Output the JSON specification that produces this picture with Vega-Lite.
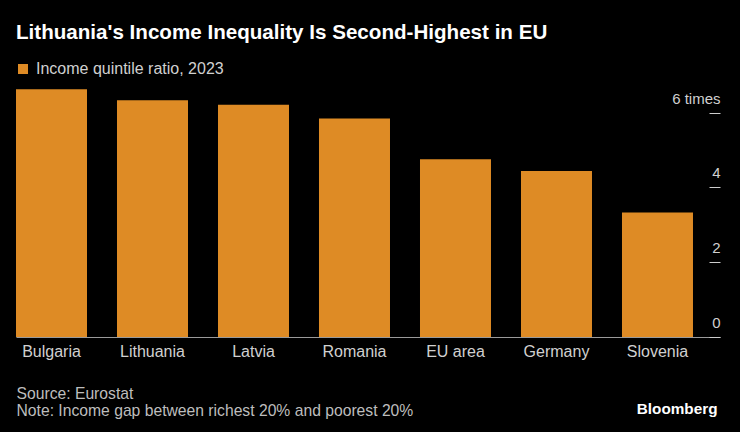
{
  "$schema": "https://vega.github.io/schema/vega-lite/v6.json",
  "width": 704,
  "height": 248,
  "autosize": {"type": "none"},
  "padding": {"left": 16, "top": 89, "right": 20, "bottom": 95},
  "background": "#000000",
  "config": {
    "view": {"stroke": null},
    "font": "Liberation Sans"
  },
  "title": {
    "text": "Lithuania's Income Inequality Is Second-Highest in EU",
    "anchor": "start",
    "frame": "group",
    "fontSize": 20.6,
    "fontWeight": "bold",
    "color": "#ffffff",
    "baseline": "alphabetic",
    "offset": 1.5
  },
  "data": {
    "values": [
      {"country": "Bulgaria", "ratio": 6.62, "series": "Income quintile ratio, 2023"},
      {"country": "Lithuania", "ratio": 6.33, "series": "Income quintile ratio, 2023"},
      {"country": "Latvia", "ratio": 6.21, "series": "Income quintile ratio, 2023"},
      {"country": "Romania", "ratio": 5.84, "series": "Income quintile ratio, 2023"},
      {"country": "EU area", "ratio": 4.75, "series": "Income quintile ratio, 2023"},
      {"country": "Germany", "ratio": 4.44, "series": "Income quintile ratio, 2023"},
      {"country": "Slovenia", "ratio": 3.33, "series": "Income quintile ratio, 2023"}
    ]
  },
  "mark": {"type": "bar"},
  "encoding": {
    "x": {
      "field": "country",
      "type": "nominal",
      "sort": null,
      "scale": {"paddingInner": 0.297, "paddingOuter": 0.1337, "align": 0},
      "axis": {
        "labelAngle": 0,
        "labelFontSize": 16,
        "labelColor": "#d0d0d0",
        "labelPadding": 6,
        "ticks": false,
        "domainColor": "#9a9a9a",
        "domainWidth": 1,
        "title": ["Source: Eurostat", "Note: Income gap between richest 20% and poorest 20%"],
        "titleFontSize": 15.7,
        "titleFontWeight": "normal",
        "titleColor": "#bdbdbd",
        "titleAnchor": "start",
        "titleAlign": "left",
        "titleBaseline": "alphabetic",
        "titleLineHeight": 17.3,
        "titleX": 0,
        "titleY": 61
      }
    },
    "y": {
      "field": "ratio",
      "type": "quantitative",
      "scale": {"domain": [0, 6.63], "nice": false},
      "axis": {
        "orient": "right",
        "offset": -11,
        "values": [0, 2, 4, 6],
        "grid": false,
        "domain": false,
        "tickSize": 11,
        "tickColor": "#cccccc",
        "labelAlign": "right",
        "labelBaseline": "alphabetic",
        "labelPadding": 0,
        "labelOffset": -9.5,
        "labelFontSize": 15,
        "labelColor": "#d0d0d0",
        "labelExpr": "datum.value == 6 ? '6 times' : datum.label",
        "title": "Bloomberg",
        "titleAngle": 0,
        "titleAlign": "right",
        "titleBaseline": "alphabetic",
        "titleFontSize": 15.3,
        "titleFontWeight": "bold",
        "titleColor": "#ffffff",
        "titleX": 8,
        "titleY": 324
      }
    },
    "color": {
      "field": "series",
      "type": "nominal",
      "scale": {"range": ["#DE8B25"]},
      "legend": {
        "orient": "none",
        "legendX": -1,
        "legendY": -28,
        "title": null,
        "padding": 0,
        "symbolType": "square",
        "symbolSize": 100,
        "symbolStrokeWidth": 0,
        "symbolOpacity": 1,
        "labelFontSize": 16,
        "labelLimit": 400,
        "labelColor": "#d0d0d0",
        "labelOffset": 5
      }
    }
  }
}
